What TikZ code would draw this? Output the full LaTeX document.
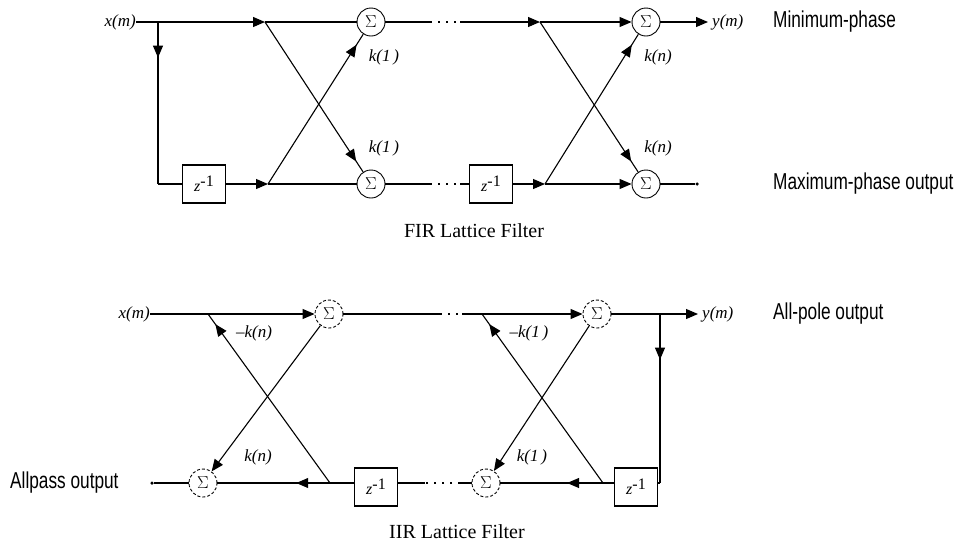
\documentclass[tikz,border=0pt]{standalone}
\usepackage{fontspec}
\setmainfont{Liberation Serif}
\newfontfamily\labfont[FakeStretch=0.75]{Liberation Sans}
\usetikzlibrary{arrows.meta,decorations.markings}
\tikzset{
  sig/.style={line width=1.1pt},
  tri/.tip={Triangle[length=12pt,width=10pt]},
  midarrow/.style={postaction={decorate},decoration={markings,mark=at position #1 with {\arrow{tri}}}},
  sumnode/.style={draw,circle,line width=0.9pt,minimum size=28pt,inner sep=0pt,font=\fontsize{16}{16}\selectfont},
  dsum/.style={sumnode,densely dashed},
  delaybox/.style={draw,line width=1.1pt,minimum width=43pt,minimum height=38pt,inner sep=0pt,font=\fontsize{16}{16}\selectfont},
  gain/.style={font=\fontsize{17}{17}\selectfont\itshape,inner sep=0pt},
  sigtext/.style={font=\fontsize{17}{17}\selectfont\itshape,inner sep=0pt},
  outtext/.style={font=\labfont\fontsize{23}{23}\selectfont,inner sep=0pt,anchor=west},
  caption/.style={font=\fontsize{20}{20}\selectfont,inner sep=0pt},
  gapdots/.style={line width=1.1pt,dash pattern=on 2pt off 6pt},
  enddot/.style={circle,fill,inner sep=0pt,minimum size=3.5pt}
}
\newcommand{\zinv}{{\itshape z}\raisebox{5pt}{-1}}
\begin{document}
\begin{tikzpicture}[x=1pt,y=-1pt]
\useasboundingbox (0,0) rectangle (962,547);
% ---------------- FIR ----------------
\node[sigtext,anchor=east] (xa) at (136,22) {x(m)};
\coordinate (J1) at (158,22);
\coordinate (J1b) at (158,184);
\node[delaybox] (Z1) at (204,184) {\zinv};
\coordinate (T1) at (265,22);
\coordinate (B1) at (268,184);
\node[sumnode] (S1) at (371,22) {$\Sigma$};
\node[sumnode] (S2) at (371,184) {$\Sigma$};
\coordinate (G1a) at (430,22); \coordinate (G1b) at (460,22);
\coordinate (G2a) at (430,184); \coordinate (G2b) at (460,184);
\node[delaybox] (Z2) at (491,184) {\zinv};
\coordinate (T2) at (540,22);
\coordinate (B2) at (545,184);
\node[sumnode] (S3) at (646,22) {$\Sigma$};
\node[sumnode] (S4) at (646,184) {$\Sigma$};
\coordinate (ya) at (708,22);
\node[enddot] (E1) at (697,184) {};
\node[sigtext,anchor=west] (yal) at (712,22) {y(m)};

\draw[sig] (xa.east) -- (J1);
\draw[sig,-tri] (J1) -- (T1);
\draw[sig] (T1) -- (S1);
\draw[sig,midarrow=0.22] (J1) -- (J1b);
\draw[sig] (J1b) -- (Z1.west);
\draw[sig,-tri] (Z1.east) -- (B1);
\draw[sig] (B1) -- (S2);
\draw[sig,midarrow=0.93] (T1) -- (S2);
\draw[sig,midarrow=0.93] (B1) -- (S1);
\draw[sig] (S1) -- (G1a);
\draw[gapdots] (G1a) -- (G1b);
\draw[sig,-tri] (G1b) -- (T2);
\draw[sig,-tri] (T2) -- (S3);
\draw[sig] (S2) -- (G2a);
\draw[gapdots] (G2a) -- (G2b);
\draw[sig] (G2b) -- (Z2.west);
\draw[sig,-tri] (Z2.east) -- (B2);
\draw[sig,-tri] (B2) -- (S4);
\draw[sig,midarrow=0.93] (T2) -- (S4);
\draw[sig,midarrow=0.93] (B2) -- (S3);
\draw[sig,-tri] (S3) -- (ya);
\draw[sig] (S4) -- (E1);
\node[gain] (k1) at (384,57) {k(1\,)};
\node[gain] (k2) at (384,148) {k(1\,)};
\node[gain] (k3) at (658,57) {k(n)};
\node[gain] (k4) at (658,148) {k(n)};
\node[outtext] (mn) at (773,22) {Minimum-phase};
\node[outtext] (mx) at (773,184) {Maximum-phase output};
\node[caption] (cf) at (474,231) {FIR Lattice Filter};

% ---------------- IIR ----------------
\node[sigtext,anchor=east] (xb) at (150,314) {x(m)};
\coordinate (J3) at (208,314);
\node[dsum] (S5) at (329,314) {$\Sigma$};
\coordinate (G3a) at (440,314); \coordinate (G3b) at (462,314);
\coordinate (J4) at (482,314);
\node[dsum] (S6) at (597,314) {$\Sigma$};
\coordinate (J5) at (660,314);
\coordinate (yb) at (698,314);
\node[sigtext,anchor=west] (ybl) at (702,314) {y(m)};
\coordinate (J6) at (660,483);
\node[delaybox] (Z4) at (636,487) {\zinv};
\coordinate (J7) at (603,483);
\node[dsum] (S8) at (486,483) {$\Sigma$};
\coordinate (G4a) at (425,483); \coordinate (G4b) at (460,483);
\node[delaybox] (Z3) at (376,487) {\zinv};
\coordinate (J8) at (330,483);
\node[dsum] (S7) at (203,483) {$\Sigma$};
\node[enddot] (E2) at (152,483) {};

\draw[sig] (xb.east) -- (J3);
\draw[sig,-tri] (J3) -- (S5);
\draw[sig] (S5) -- (G3a);
\draw[gapdots] (G3a) -- (G3b);
\draw[sig] (G3b) -- (J4);
\draw[sig,-tri] (J4) -- (S6);
\draw[sig] (S6) -- (J5);
\draw[sig,-tri] (J5) -- (yb);
\draw[sig,midarrow=0.27] (J5) -- (J6);
\draw[sig] (J6) -- (Z4.east |- J6);
\draw[sig] (Z4.west |- J7) -- (J7);
\draw[sig,midarrow=0.35] (J7) -- (S8);
\draw[sig] (S8) -- (G4b);
\draw[gapdots] (G4b) -- (G4a);
\draw[sig] (G4a) -- (Z3.east |- G4a);
\draw[sig] (Z3.west |- J8) -- (J8);
\draw[sig,midarrow=0.3] (J8) -- (S7);
\draw[sig] (S7) -- (E2);
\draw[sig,midarrow=0.94] (J8) -- (J3);
\draw[sig,-tri] (S5) -- (S7);
\draw[sig,midarrow=0.94] (J7) -- (J4);
\draw[sig,-tri] (S6) -- (S8);
\node[gain] (k5) at (254,333) {\textendash k(n)};
\node[gain] (k6) at (258,457) {k(n)};
\node[gain] (k7) at (529,333) {\textendash k(1\,)};
\node[gain] (k8) at (532,457) {k(1\,)};
\node[outtext] (ap) at (773,314) {All-pole output};
\node[outtext] (al) at (10,483) {Allpass output};
\node[caption] (ci) at (457,532) {IIR Lattice Filter};
\end{tikzpicture}
\end{document}
